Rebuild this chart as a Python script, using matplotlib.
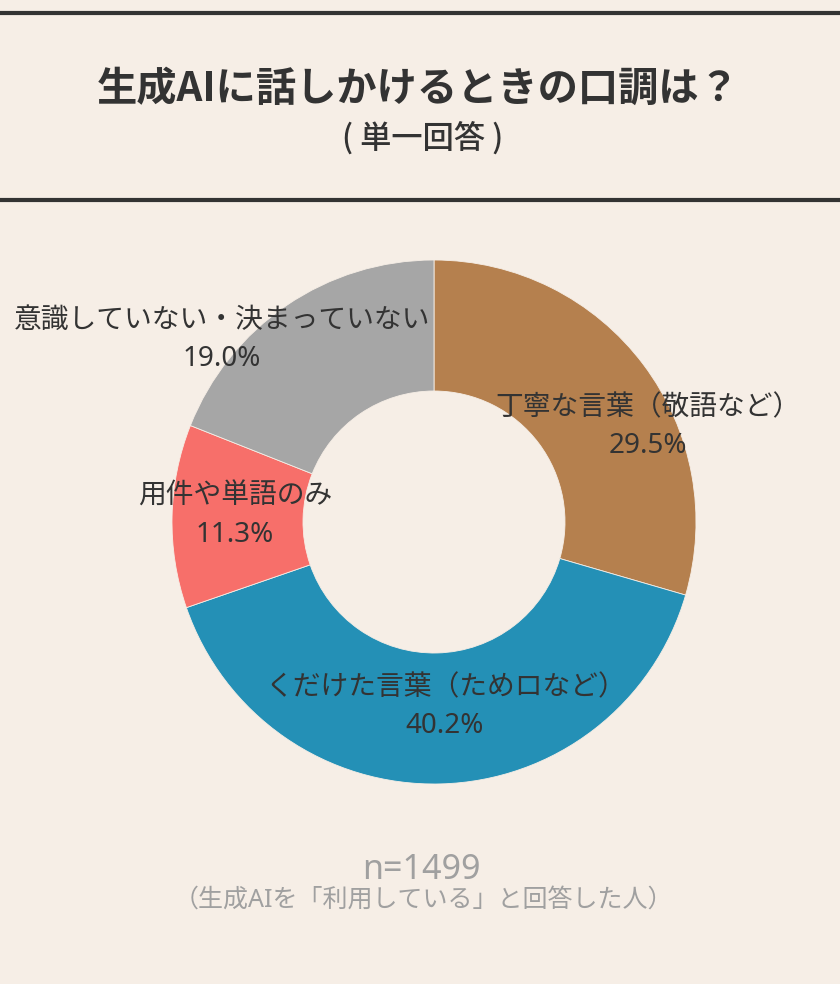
import matplotlib.pyplot as plt

# 数字・英字は Noto Sans、日本語は CJK フォントへフォールバック
plt.rcParams['font.family'] = ['Noto Sans', 'Noto Sans CJK JP', 'DejaVu Sans']

# データ
labels = ['丁寧な言葉（敬語など）', 'くだけた言葉（ためロなど）', '用件や単語のみ', '意識していない・決まっていない']
shares = [29.5, 40.2, 11.3, 19.0]
colors = ['#B5804E', '#2490B6', '#F76F6A', '#A6A6A6']
# ラベル位置 (ピクセル, 上から)
label_pos = [(648, 408), (445, 688), (235, 497), (222, 321)]

title = '生成AIに話しかけるときの口調は？'
subtitle = '( 単一回答 )'
n_text = 'n=1499'
note = '（生成AIを「利用している」と回答した人）'

bg = '#F6EEE6'
txt = '#333333'
gray = '#A0A0A0'

W, H = 840, 984
fig = plt.figure(figsize=(W / 100, H / 100), dpi=100, facecolor=bg)
ax = fig.add_axes([0, 0, 1, 1])
ax.set_facecolor(bg)

# y軸は反転させるので、画面上で時計回り = データ上で反時計回り
ax.pie(shares, colors=colors, startangle=-90, counterclock=True,
       center=(434, 522), radius=262,
       wedgeprops=dict(width=131, edgecolor=bg, linewidth=0.6))

ax.set_xlim(0, W)
ax.set_ylim(H, 0)
ax.set_aspect('auto')
ax.axis('off')

# 上下の線
ax.plot([0, W], [13, 13], color=txt, lw=3, solid_capstyle='butt')
ax.plot([0, W], [200, 200], color=txt, lw=3, solid_capstyle='butt')

ax.text(418, 89, title, ha='center', va='center', fontsize=29,
        fontweight='bold', color=txt, family=['Noto Sans CJK JP'])
ax.text(423, 138, subtitle, ha='center', va='center', fontsize=22.5,
        fontweight='medium', color=txt, family=['Noto Sans CJK JP'])

for lab, v, (x, y) in zip(labels, shares, label_pos):
    ax.text(x, y, lab, ha='center', va='center', fontsize=20, color=txt)
    ax.text(x, y + 38, f'{v:.1f}%', ha='center', va='center', fontsize=20, color=txt)

ax.text(421, 870, n_text, ha='center', va='center', fontsize=24.5, color=gray)
ax.text(423, 900, note, ha='center', va='center', fontsize=18, color=gray)

fig.savefig('out.png', dpi=100, facecolor=bg)
